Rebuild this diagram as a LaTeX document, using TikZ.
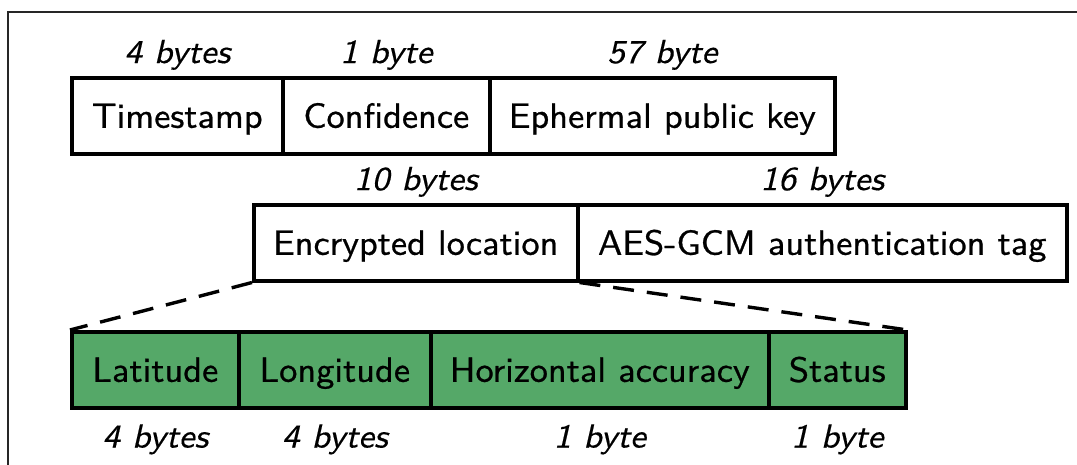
\documentclass[tikz,border=0pt]{standalone}
\usepackage{fontspec}
\newfontfamily\fieldfont{lmsans10-regular.otf}[FakeStretch=1.04, FakeBold=0.7]
\newfontfamily\lblfont{lmsans10-oblique.otf}[FakeStretch=1.07, FakeBold=0.4]
\definecolor{fieldgreen}{HTML}{55A868}
\tikzset{
  field/.style={draw=black, line width=3.5pt, minimum height=76pt, inner sep=0pt,
    anchor=north west, font=\fieldfont\fontsize{35}{41}\selectfont,
    text height=24pt, text depth=0pt},
  greenfield/.style={field, fill=fieldgreen},
  sizelbl/.style={font=\lblfont\fontsize{33.3}{38}\selectfont, anchor=base, inner sep=0pt},
  zoomline/.style={line width=3.4pt, dash pattern=on 21pt off 13pt},
  frameline/.style={line width=1.8pt, black!85}
}
\begin{document}
\begin{tikzpicture}[x=1pt,y=-1pt]
\useasboundingbox (0,0) rectangle (1077,464);
\fill[white] (0,0) rectangle (1077,464);
\draw[frameline] (8,470) -- (8,12) -- (1085,12);

% row 1
\node[field, minimum width=211pt] (ts) at (70,76) {Timestamp};
\node[field, minimum width=207pt] (conf) at (281,76) {Confidence};
\node[field, minimum width=345pt] (eph) at (488,76) {Ephermal public key};
\node[sizelbl] (lts) at ([yshift=13pt]ts.north) {4 bytes};
\node[sizelbl] (lconf) at ([yshift=13pt]conf.north) {1 byte};
\node[sizelbl] (leph) at ([yshift=13pt]eph.north) {57 byte};

% row 2
\node[field, minimum width=324pt] (enc) at (252,203) {Encrypted location};
\node[field, minimum width=489pt] (aes) at (576,203) {AES-GCM authentication tag};
\node[sizelbl] (lenc) at ([yshift=13pt]enc.north) {10 bytes};
\node[sizelbl] (laes) at ([yshift=13pt]aes.north) {16 bytes};

% row 3
\node[greenfield, minimum width=167pt] (lat) at (70,330) {Latitude};
\node[greenfield, minimum width=192pt] (lon) at (237,330) {Longitude};
\node[greenfield, minimum width=338pt] (hor) at (429,330) {Horizontal accuracy};
\node[greenfield, minimum width=137pt] (sta) at (767,330) {Status};
\node[sizelbl] (llat) at ([yshift=-38pt]lat.south) {4 bytes};
\node[sizelbl] (llon) at ([yshift=-38pt]lon.south) {4 bytes};
\node[sizelbl] (lhor) at ([yshift=-38pt]hor.south) {1 byte};
\node[sizelbl] (lsta) at ([yshift=-38pt]sta.south) {1 byte};

% zoom lines
\draw[zoomline] (enc.south west) -- (lat.north west);
\draw[zoomline] (enc.south east) -- (sta.north east);
\end{tikzpicture}
\end{document}
